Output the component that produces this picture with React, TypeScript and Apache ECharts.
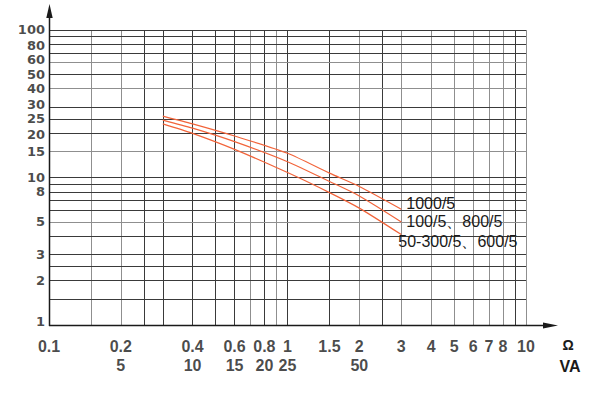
import React, { useEffect, useRef } from 'react';
import * as echarts from 'echarts';

// ---- data ----
const seriesNames = ['1000/5', '100/5、800/5', '50-300/5、600/5'];
const ohmPoints = [0.3, 0.4, 0.6, 1, 1.5, 2, 3];
const burden1000 = [26.1, 23.1, 19.1, 14.6, 10.7, 8.7, 6.1];
const burden800 = [24.5, 21.6, 17.5, 12.8, 9.4, 7.5, 5.0];
const burden600 = [23.1, 19.9, 15.5, 10.8, 7.9, 6.2, 4.1];

const xTickValues = [0.1, 0.2, 0.4, 0.6, 0.8, 1, 1.5, 2, 3, 4, 5, 6, 7, 8, 10];
const vaTickOhms = [0.2, 0.4, 0.6, 0.8, 1, 2];
const vaTickLabels = ['5', '10', '15', '20', '25', '50'];
const yTickValues = [1, 2, 3, 5, 8, 10, 15, 20, 25, 30, 40, 50, 60, 80, 100];

const xGridValues = [0.1, 0.15, 0.2, 0.25, 0.3, 0.4, 0.5, 0.6, 0.7, 0.8, 0.9, 1, 1.5, 2, 2.5, 3, 4, 5, 6, 7, 8, 9, 10];
const yGridValues = [1, 1.5, 2, 2.5, 3, 4, 5, 6, 7, 8, 9, 10, 15, 20, 25, 30, 40, 50, 60, 70, 80, 90, 100];
const xLightGrid = [0.15, 0.2, 0.7, 0.9, 2, 3, 4, 5, 6, 7, 8, 10];
const yLightGrid = [5, 15, 40, 60];

const FONT = '"Liberation Sans", Arial, sans-serif';
const YFONT = '"DejaVu Sans", "Liberation Sans", Arial, sans-serif';
const TEXT = '#1a1a1a';
const ORANGE = '#f2643a';

// small vertical nudges of some y labels, as in the reference drawing
const yLabelNudge: Record<number, number> = { 100: -1, 80: 1, 60: -3, 30: -3, 20: 1, 1: -4 };

export default function App() {
  const ref = useRef<HTMLDivElement>(null);

  useEffect(() => {
    if (!ref.current) return;
    const chart = echarts.init(ref.current, undefined, { renderer: 'svg' });

    const gridLines: any[] = [];
    xGridValues.forEach((v) => {
      gridLines.push({
        xAxis: v,
        lineStyle: { color: xLightGrid.includes(v) ? '#8f8f8f' : '#3a3a3a', width: 1, type: 'solid' },
      });
    });
    yGridValues.forEach((v) => {
      gridLines.push({
        yAxis: v,
        lineStyle: { color: yLightGrid.includes(v) ? '#8f8f8f' : '#3a3a3a', width: 1, type: 'solid' },
      });
    });

    const curves = [burden1000, burden800, burden600];
    const endOffsets = [[0, -6], [0, 0], [-8, 7]];

    const labelSeries = (data: any[], position: string, distance: number, fontSize: number, fontFamily: string) => ({
      type: 'scatter',
      data,
      symbolSize: 0,
      silent: true,
      clip: false,
      z: 10,
      label: {
        show: true,
        position,
        distance,
        formatter: '{b}',
        color: TEXT,
        fontSize,
        lineHeight: 12,
        fontWeight: 'bold',
        fontFamily,
      },
    });

    chart.setOption({
      animation: false,
      backgroundColor: '#ffffff',
      grid: { left: 49, right: 79, top: 30, bottom: 74 },
      xAxis: {
        type: 'log',
        logBase: 10,
        min: 0.1,
        max: 10,
        axisLine: { show: false },
        axisTick: { show: false },
        axisLabel: { show: false },
        splitLine: { show: false },
      },
      yAxis: {
        type: 'log',
        logBase: 10,
        min: 1,
        max: 100,
        axisLine: { show: false },
        axisTick: { show: false },
        axisLabel: { show: false },
        splitLine: { show: false },
      },
      series: [
        {
          type: 'line',
          data: [[1, 10]],
          showSymbol: false,
          symbol: 'none',
          lineStyle: { width: 0 },
          silent: true,
          z: 1,
          markLine: {
            silent: true,
            symbol: ['none', 'none'],
            label: { show: false },
            data: gridLines,
          },
        },
        ...curves.map((arr, si) => ({
          type: 'line',
          name: seriesNames[si],
          data: ohmPoints.map((x, i) => [x, arr[i]]),
          showSymbol: false,
          symbol: 'none',
          smooth: 0.25,
          z: 5,
          lineStyle: { color: ORANGE, width: 1.2 },
          endLabel: {
            show: true,
            formatter: '{a}',
            offset: endOffsets[si],
            distance: 5,
            color: TEXT,
            fontSize: 16,
            fontFamily: FONT,
          },
        })),
        labelSeries(
          xTickValues.map((v) => ({ name: String(v), value: [v, 1] })),
          'bottom',
          15,
          16,
          FONT
        ),
        labelSeries(
          vaTickOhms.map((v, i) => ({ name: vaTickLabels[i], value: [v, 1] })),
          'bottom',
          34,
          16,
          FONT
        ),
        labelSeries(
          yTickValues.map((v) => ({
            name: String(v),
            value: [0.1, v],
            label: { offset: [0, yLabelNudge[v] || 0] },
          })),
          'left',
          4,
          13,
          YFONT
        ),
      ],
      graphic: [
        { type: 'line', shape: { x1: 49.5, y1: 326, x2: 49.5, y2: 16 }, style: { stroke: TEXT, lineWidth: 1.5 }, z: 20 },
        { type: 'polygon', shape: { points: [[49.5, 4], [46.3, 18], [52.7, 18]] }, style: { fill: TEXT }, z: 20 },
        { type: 'line', shape: { x1: 49, y1: 325.5, x2: 546, y2: 325.5 }, style: { stroke: TEXT, lineWidth: 1.5 }, z: 20 },
        { type: 'polygon', shape: { points: [[558, 325.5], [543, 322.5], [543, 328.5]] }, style: { fill: TEXT }, z: 20 },
        {
          type: 'text', x: 568, y: 345, z: 20,
          style: { text: 'Ω', align: 'center', verticalAlign: 'middle', fill: TEXT, fontSize: 14, fontWeight: 'bold', fontFamily: FONT },
        },
        {
          type: 'text', x: 570, y: 366, z: 20,
          style: { text: 'VA', align: 'center', verticalAlign: 'middle', fill: TEXT, fontSize: 16, fontWeight: 'bold', fontFamily: FONT },
        },
      ],
    });

    return () => chart.dispose();
  }, []);

  return (
    <div
      ref={ref}
      style={{ position: 'absolute', left: 0, top: 0, width: 605, height: 399 }}
    />
  );
}
